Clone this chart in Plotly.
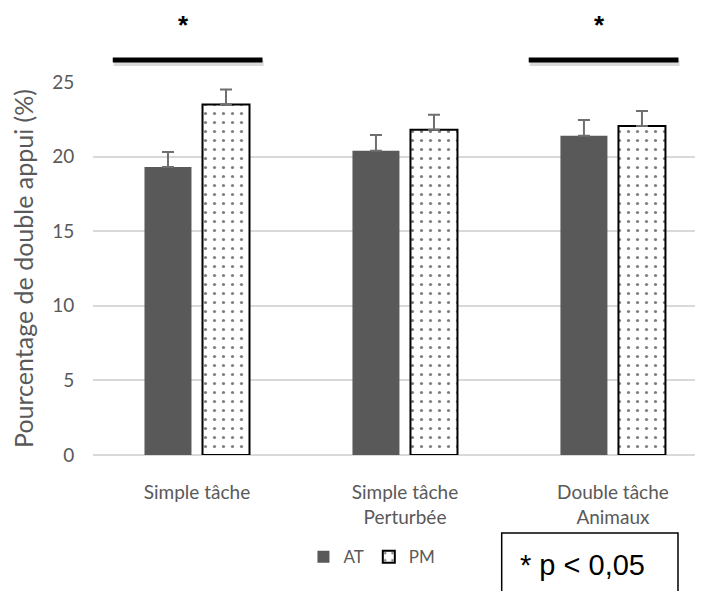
import plotly.graph_objects as go

categories = ["Simple tâche", "Simple tâche<br>Perturbée", "Double tâche<br>Animaux"]
at_values = [19.3, 20.4, 21.4]
at_err = [1.0, 1.05, 1.05]
pm_values = [23.5, 21.8, 22.05]
pm_err = [1.0, 1.0, 1.0]
sig_indices = [0, 2]
y_ticks = [0, 5, 10, 15, 20, 25]

GRAY = "#595959"
TICKFONT = dict(family="Lato, Open Sans, sans-serif", size=19, color=GRAY)

fig = go.Figure()
fig.add_trace(go.Bar(
    name="AT", x=categories, y=at_values,
    marker=dict(color=GRAY, line=dict(width=0)),
    error_y=dict(type="data", array=at_err, arrayminus=[0]*3, symmetric=False,
                 color="#6f6f6f", thickness=2, width=6),
))
fig.add_trace(go.Bar(
    name="PM", x=categories, y=pm_values,
    marker=dict(color="white", line=dict(color="black", width=2),
                pattern=dict(shape=".", fgcolor="black", bgcolor="white",
                             size=9, solidity=0.1, fillmode="overlay")),
    error_y=dict(type="data", array=pm_err, arrayminus=[0]*3, symmetric=False,
                 color="#6f6f6f", thickness=2, width=6),
))

shapes = []
annotations = []
for i in sig_indices:
    shapes.append(dict(type="line", xref="x", yref="paper", x0=i - 0.40, x1=i + 0.32,
                       y0=1.051, y1=1.051, line=dict(color="rgba(0,0,0,0.15)", width=6)))
    shapes.append(dict(type="line", xref="x", yref="paper", x0=i - 0.405, x1=i + 0.315,
                       y0=1.059, y1=1.059, line=dict(color="black", width=5)))
    annotations.append(dict(text="<b>*</b>", xref="x", yref="paper", x=i - 0.065, y=1.152,
                            xanchor="center", yanchor="middle", showarrow=False,
                            font=dict(family="Liberation Sans, Arial", size=26, color="black")))

shapes.append(dict(type="rect", xref="paper", yref="paper", x0=0.67, x1=0.959,
                   y0=-0.40, y1=-0.209, line=dict(color="black", width=1.5),
                   fillcolor="rgba(0,0,0,0)"))
annotations.append(dict(text="* p < 0,05", xref="paper", yref="paper", x=0.802, y=-0.295,
                        xanchor="center", yanchor="middle", showarrow=False,
                        font=dict(family="Liberation Sans, Arial", size=29, color="black")))

fig.update_layout(
    width=695, height=583,
    margin=dict(l=85, r=0, t=74, b=136),
    paper_bgcolor="white", plot_bgcolor="white",
    barmode="group", bargap=0.442, bargroupgap=0.19,
    showlegend=True,
    legend=dict(orientation="h", x=0.345, y=-0.274, xanchor="left", yanchor="middle",
                font=dict(family="Lato, Open Sans, sans-serif", size=17, color=GRAY),
                itemwidth=30, bgcolor="rgba(0,0,0,0)"),
    xaxis=dict(range=[-0.5, 2.433], showgrid=False, showline=False, zeroline=False,
               ticks="outside", ticklen=20, tickcolor="rgba(0,0,0,0)",
               tickfont=TICKFONT),
    yaxis=dict(range=[0, 25], tickvals=y_ticks, showgrid=True, gridcolor="#d9d9d9",
               gridwidth=1.5, zeroline=True, zerolinecolor="#d9d9d9", zerolinewidth=1.5,
               showline=False, ticks="outside", ticklen=14, tickcolor="rgba(0,0,0,0)",
               tickfont=TICKFONT,
               title=dict(text="Pourcentage de double appui (%)", standoff=11,
                          font=dict(family="Lato, Open Sans, sans-serif", size=25, color=GRAY))),
    shapes=shapes, annotations=annotations,
)

fig.write_html("out.html")
